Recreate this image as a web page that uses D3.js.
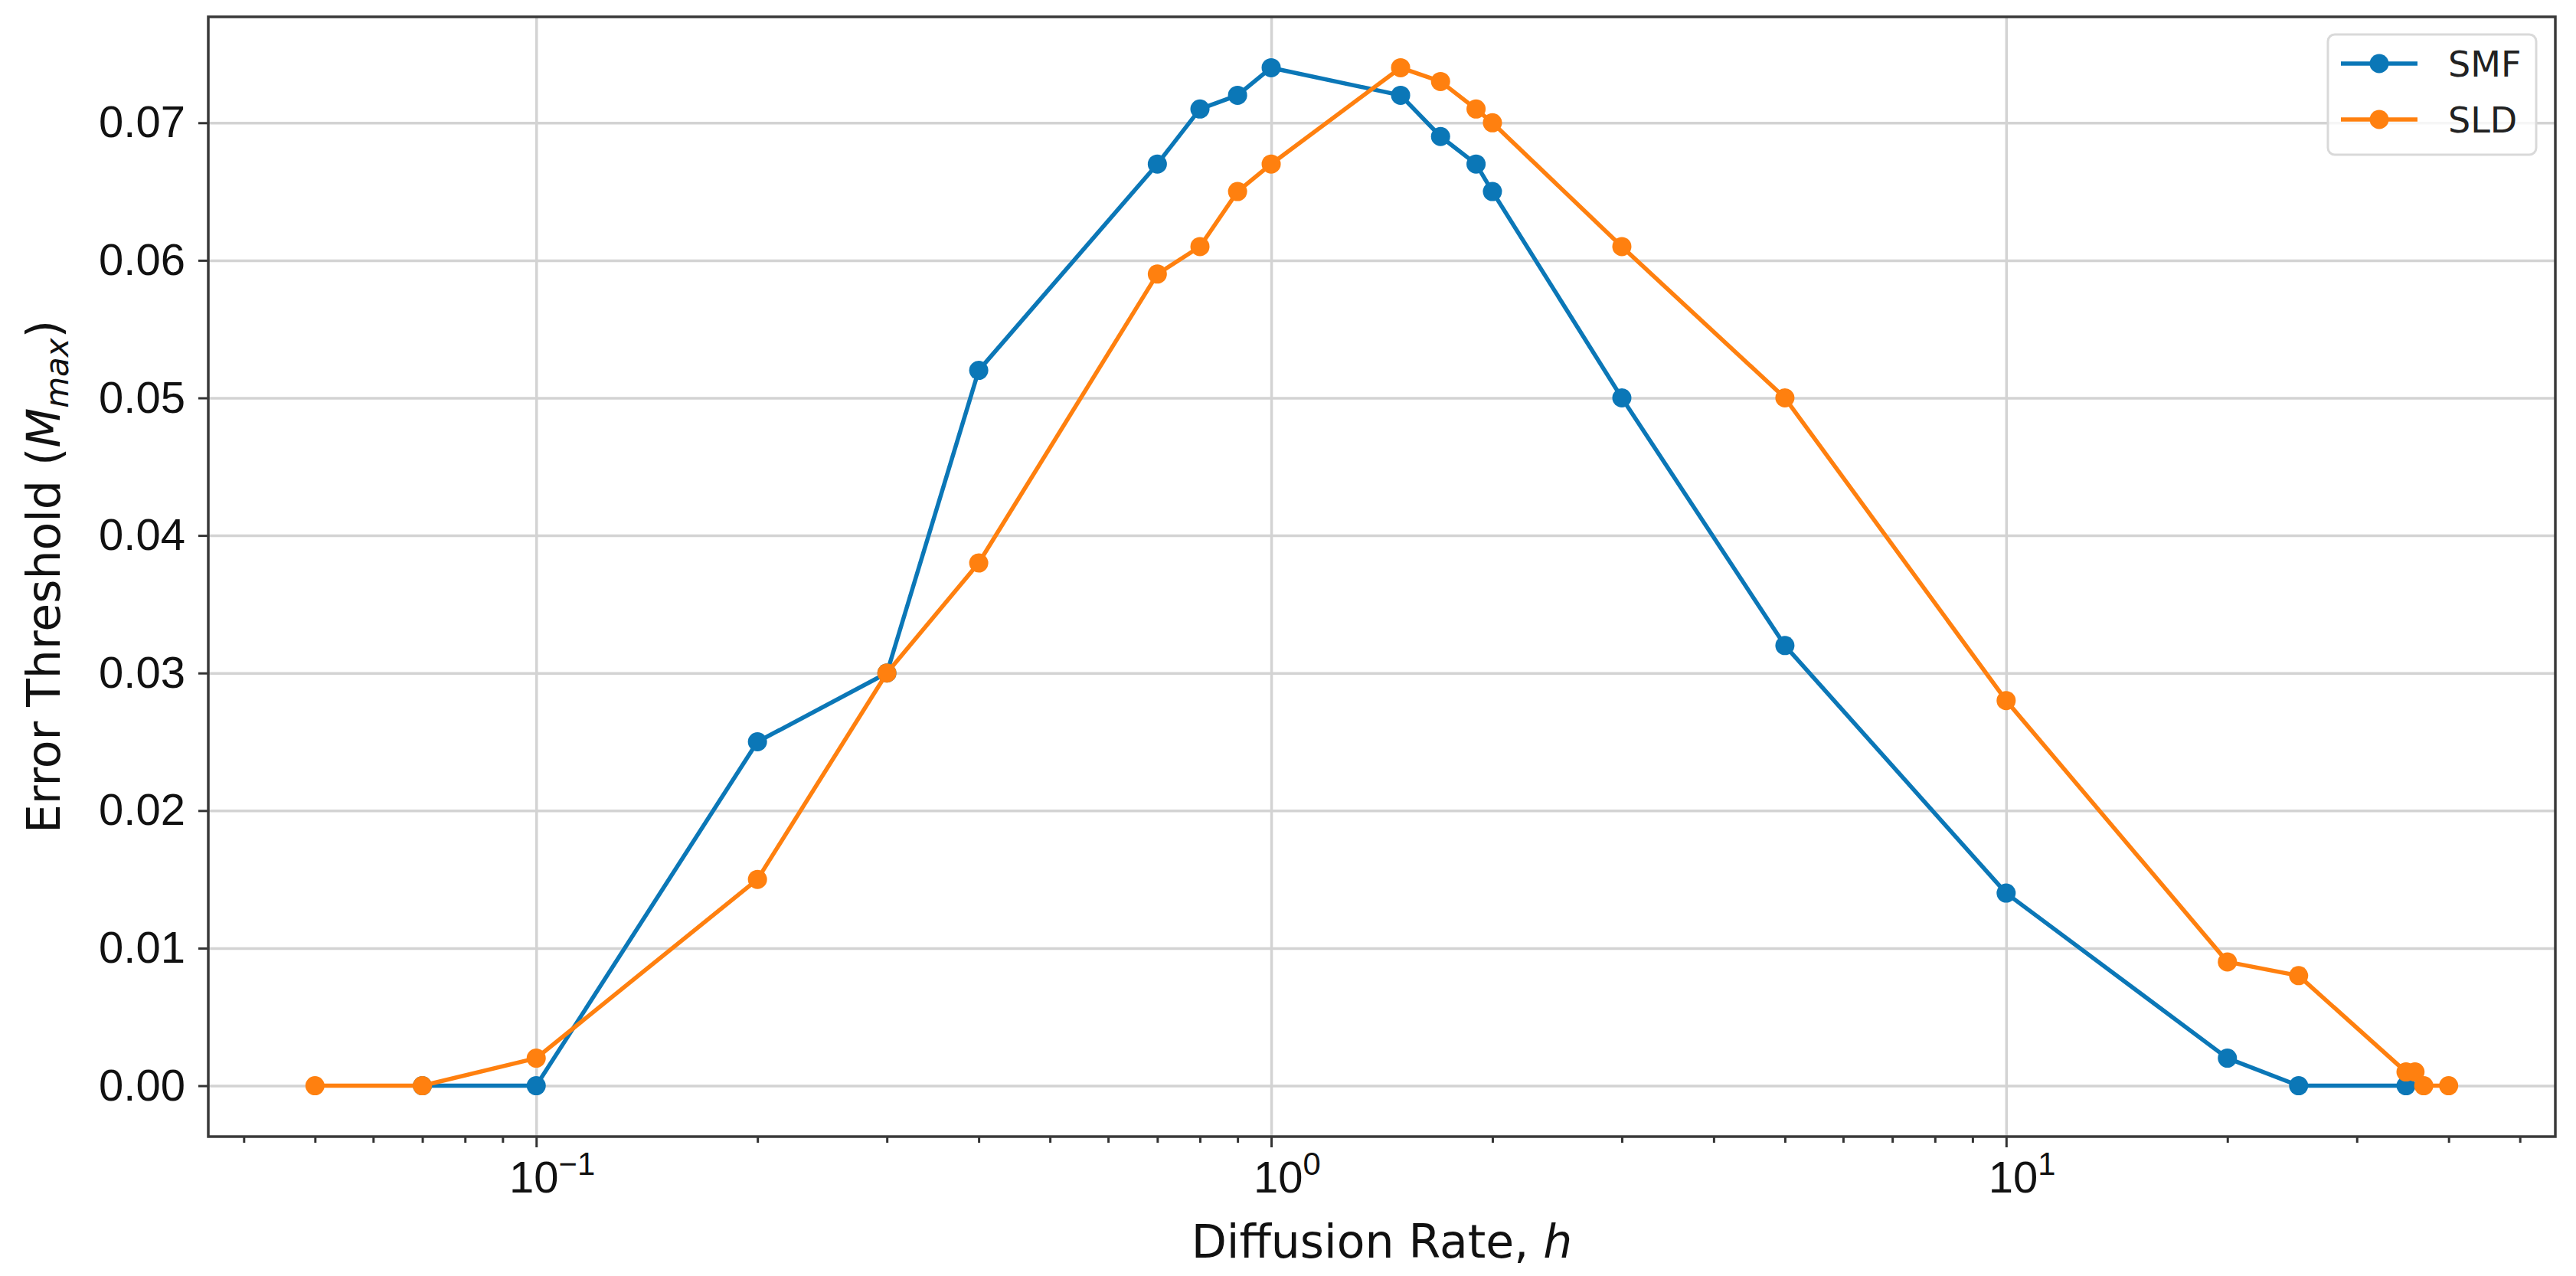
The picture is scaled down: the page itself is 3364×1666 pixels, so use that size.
<!DOCTYPE html>
<html>
<head>
<meta charset="utf-8">
<script src="https://cdn.jsdelivr.net/npm/d3@7"></script>
<style>
	body { margin: 0; background: #fff; }
	svg { font-family: 'DejaVu Sans', sans-serif; }
	.grid line { stroke: #d3d3d3; stroke-width: 3.5; }
	.grid path { display: none; }
	.axis path { display: none; }
	.axis line { stroke: #333; stroke-width: 3; }
	.axis text { fill: #111; font-size: 58px; }
</style>
</head>
<body>
<div id="container"></div>
<script>
const smfRate = [0.07, 0.1, 0.2, 0.3, 0.4, 0.7, 0.8, 0.9, 1, 1.5, 1.7, 1.9, 2, 3, 5, 10, 20, 25, 35];
const smfValue = [0, 0, 0.025, 0.030, 0.052, 0.067, 0.071, 0.072, 0.074, 0.072, 0.069, 0.067, 0.065, 0.050, 0.032, 0.014, 0.002, 0, 0];
const sldRate = [0.05, 0.07, 0.1, 0.2, 0.3, 0.4, 0.7, 0.8, 0.9, 1, 1.5, 1.7, 1.9, 2, 3, 5, 10, 20, 25, 35, 36, 37, 40];
const sldValue = [0, 0, 0.002, 0.015, 0.030, 0.038, 0.059, 0.061, 0.065, 0.067, 0.074, 0.073, 0.071, 0.070, 0.061, 0.050, 0.028, 0.009, 0.008, 0.001, 0.001, 0, 0];
const xMajor = [0.1, 1, 10];
const xMajorExp = ['\u22121', '0', '1'];
const xMinor = [0.04, 0.05, 0.06, 0.07, 0.08, 0.09, 0.2, 0.3, 0.4, 0.5, 0.6, 0.7, 0.8, 0.9, 2, 3, 4, 5, 6, 7, 8, 9, 20, 30, 40, 50];
const yTicks = [0, 0.01, 0.02, 0.03, 0.04, 0.05, 0.06, 0.07];
const seriesNames = ['SMF', 'SLD'];
const seriesColors = ['#0b77b7', '#ff800f'];

const width = 3364, height = 1666;
const margin = { top: 22, right: 27, bottom: 182, left: 272 };
const w = width - margin.left - margin.right;
const h = height - margin.top - margin.bottom;

const series = [
	smfRate.map((r, i) => ({ rate: r, value: smfValue[i] })),
	sldRate.map((r, i) => ({ rate: r, value: sldValue[i] })),
];

// matplotlib style 5% margins
const lx = [Math.log10(0.05), Math.log10(40)];
const padX = (lx[1] - lx[0]) * 0.05;
const xScale = d3.scaleLog()
	.domain([Math.pow(10, lx[0] - padX), Math.pow(10, lx[1] + padX)])
	.range([0, w]);
const padY = 0.074 * 0.05;
const yScale = d3.scaleLinear()
	.domain([-padY, 0.074 + padY])
	.range([h, 0]);

const svg = d3.select('#container')
	.append('svg')
	.attr('width', width)
	.attr('height', height)
	.append('g')
	.attr('transform', `translate(${margin.left},${margin.top})`);

svg.append('g')
	.attr('class', 'grid')
	.attr('transform', `translate(0,${h})`)
	.call(d3.axisBottom(xScale).tickValues(xMajor).tickSize(-h).tickFormat(''));
svg.append('g')
	.attr('class', 'grid')
	.call(d3.axisLeft(yScale).tickValues(yTicks).tickSize(-w).tickFormat(''));

// x axis: minor ticks, then major with 10^n labels
svg.append('g')
	.attr('class', 'axis')
	.attr('transform', `translate(0,${h})`)
	.call(d3.axisBottom(xScale).tickValues(xMinor).tickSize(8).tickFormat(''));
const xAxis = svg.append('g')
	.attr('class', 'axis')
	.attr('transform', `translate(0,${h})`)
	.call(d3.axisBottom(xScale).tickValues(xMajor).tickSize(14).tickPadding(18).tickFormat(''));
xAxis.selectAll('.tick text').each(function (d, i) {
	const t = d3.select(this);
	t.append('tspan').text('10');
	t.append('tspan').attr('dy', '-0.55em').attr('font-size', '0.72em').text(xMajorExp[i]);
}).attr('dx', '0.35em');

svg.append('g')
	.attr('class', 'axis')
	.call(d3.axisLeft(yScale).tickValues(yTicks).tickSize(13).tickPadding(17).tickFormat(d3.format('.2f')));

// frame
svg.append('rect')
	.attr('width', w)
	.attr('height', h)
	.attr('fill', 'none')
	.attr('stroke', '#3a3a3a')
	.attr('stroke-width', 3.5);

const line = d3.line()
	.x(d => xScale(d.rate))
	.y(d => yScale(d.value));

series.forEach((data, i) => {
	svg.append('path')
		.datum(data)
		.attr('fill', 'none')
		.attr('stroke', seriesColors[i])
		.attr('stroke-width', 5.5)
		.attr('stroke-linejoin', 'round')
		.attr('d', line);
	svg.append('g')
		.selectAll('circle')
		.data(data)
		.enter()
		.append('circle')
		.attr('cx', d => xScale(d.rate))
		.attr('cy', d => yScale(d.value))
		.attr('r', 12.5)
		.attr('fill', seriesColors[i]);
});

// axis labels
svg.append('text')
	.attr('x', w / 2)
	.attr('y', 1642 - margin.top)
	.attr('text-anchor', 'middle')
	.attr('font-size', 60)
	.attr('fill', '#111')
	.call(t => {
		t.append('tspan').text('Diffusion Rate, ');
		t.append('tspan').attr('font-style', 'italic').text('h');
	});

svg.append('text')
	.attr('transform', `translate(${78 - margin.left},${h / 2}) rotate(-90)`)
	.attr('text-anchor', 'middle')
	.attr('font-size', 60)
	.attr('fill', '#111')
	.call(t => {
		t.append('tspan').text('Error Threshold (');
		t.append('tspan').attr('font-style', 'italic').text('M');
		t.append('tspan').attr('font-style', 'italic').attr('font-size', '0.7em').attr('dy', '0.25em').text('max');
		t.append('tspan').attr('dy', '-0.18em').text(')');
	});

// legend
const legend = svg.append('g')
	.attr('transform', `translate(${3040 - margin.left},${45 - margin.top})`);
legend.append('rect')
	.attr('width', 272)
	.attr('height', 157)
	.attr('rx', 9)
	.attr('fill', '#fff')
	.attr('fill-opacity', 0.8)
	.attr('stroke', '#d9d9d9')
	.attr('stroke-width', 3);
seriesNames.forEach((name, i) => {
	const y = 38 + i * 73;
	legend.append('line')
		.attr('x1', 17).attr('x2', 117)
		.attr('y1', y).attr('y2', y)
		.attr('stroke', seriesColors[i])
		.attr('stroke-width', 5.5);
	legend.append('circle')
		.attr('cx', 67).attr('cy', y)
		.attr('r', 12.5)
		.attr('fill', seriesColors[i]);
	legend.append('text')
		.attr('x', 157)
		.attr('y', y + 17)
		.attr('font-size', 46)
		.attr('fill', '#222')
		.text(name);
});
</script>
</body>
</html>
